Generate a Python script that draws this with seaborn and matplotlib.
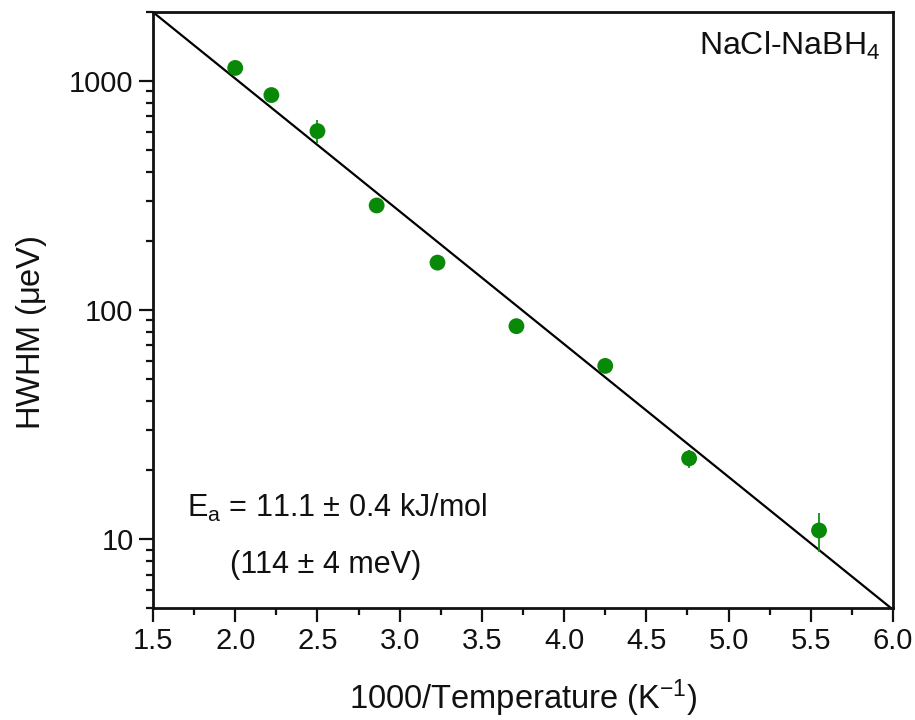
import numpy as np
import pandas as pd
import matplotlib
matplotlib.use("Agg")
import matplotlib.pyplot as plt
import matplotlib.ticker as ticker
import seaborn as sns

sns.set_theme(style="ticks")
plt.rcParams['font.family'] = ['Liberation Sans', 'DejaVu Sans']
plt.rcParams['mathtext.fontset'] = 'custom'
plt.rcParams['mathtext.rm'] = 'Liberation Sans'
plt.rcParams['mathtext.it'] = 'Liberation Sans'
plt.rcParams['text.color'] = '#111111'
plt.rcParams['axes.labelcolor'] = '#111111'

# data
inv_temp = [2.00, 2.22, 2.50, 2.86, 3.23, 3.71, 4.25, 4.76, 5.55]
hwhm = [1140, 868, 604, 286, 161, 85, 57, 22.5, 10.9]
hwhm_err = [40, 45, 70, 12, 7, 4, 3, 2.0, 2.1]

# Arrhenius fit, Ea = 11.1 kJ/mol
ea = 11100.0
R = 8.314
prefactor = 1.48e4
fit_x = np.array([1.5, 6.0])
fit_y = prefactor * np.exp(-ea / R * fit_x / 1000.0)

df = pd.DataFrame({'x': inv_temp, 'y': hwhm, 'err': hwhm_err})
fit = pd.DataFrame({'x': fit_x, 'y': fit_y})

fig = plt.figure(figsize=(9.15, 7.2), dpi=100)
ax = fig.add_axes([0.1672, 0.1556, 0.8088, 0.8277])

sns.lineplot(data=fit, x='x', y='y', color='black', linewidth=1.6, ax=ax)
ax.errorbar(df['x'], df['y'], yerr=df['err'], fmt='none',
            ecolor='#109010', elinewidth=1.3, capsize=0, zorder=3)
sns.scatterplot(data=df, x='x', y='y', color='#088a08', s=130,
                edgecolor='none', zorder=4, ax=ax)

ax.set_yscale('log')
ax.set_xlim(1.5, 6.0)
ax.set_ylim(5, 2000)
ax.xaxis.set_major_locator(ticker.MultipleLocator(0.5))
ax.xaxis.set_minor_locator(ticker.MultipleLocator(0.25))
ax.xaxis.set_major_formatter(ticker.FormatStrFormatter('%.1f'))
ax.yaxis.set_major_locator(ticker.FixedLocator([10, 100, 1000]))
ax.yaxis.set_major_formatter(ticker.FuncFormatter(lambda v, p: '%d' % v))
ax.yaxis.set_minor_locator(ticker.LogLocator(base=10, subs=np.arange(2, 10)))
ax.yaxis.set_minor_formatter(ticker.NullFormatter())

for s in ax.spines.values():
    s.set_linewidth(2)
    s.set_color('#111111')
ax.tick_params(which='major', direction='out', length=10, width=1.6,
               labelsize=21, colors='#111111', pad=4)
ax.tick_params(which='minor', direction='out', length=5, width=1.6,
               colors='#111111')
ax.tick_params(top=False, right=False, which='both')

ax.set_xlabel('1000/Temperature (K$^{-1}$)', fontsize=23.5, labelpad=16)
ax.set_ylabel('HWHM ($\\mathrm{\\mu}$eV)', fontsize=23.5)
ax.yaxis.set_label_coords(-0.140, 0.462)

ax.text(0.982, 0.928, 'NaCl-NaBH$_4$', transform=ax.transAxes,
        ha='right', va='baseline', fontsize=23)
ax.text(0.046, 0.153, 'E$_a$ = 11.1 ± 0.4 kJ/mol', transform=ax.transAxes,
        ha='left', va='baseline', fontsize=22)
ax.text(0.104, 0.059, '(114 ± 4 meV)', transform=ax.transAxes,
        ha='left', va='baseline', fontsize=22)

fig.savefig('out.png', dpi=100)
